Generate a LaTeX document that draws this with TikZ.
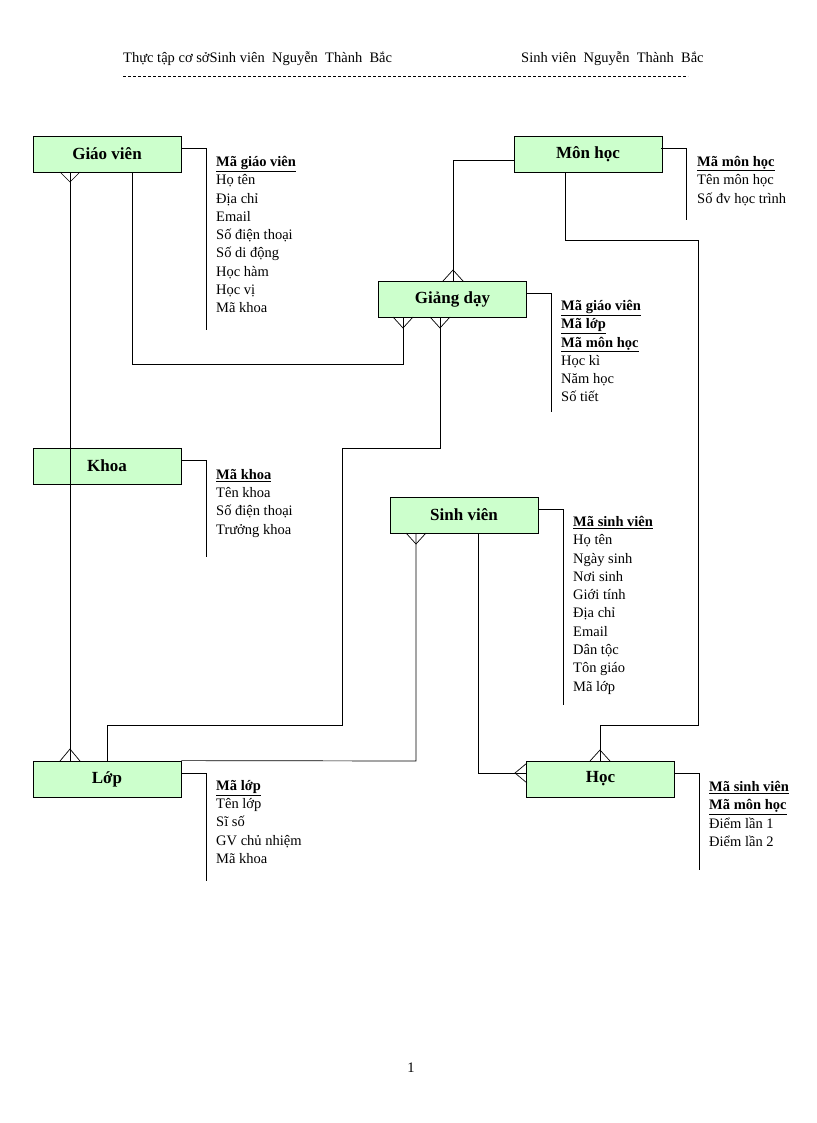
\documentclass[tikz,border=0pt]{standalone}
\usepackage{fontspec}
\setmainfont{Liberation Serif}
\begin{document}
\begin{tikzpicture}[x=1pt,y=-1pt,
  ent/.style={draw,fill=green!20,line width=0.8pt,minimum width=148pt,minimum height=36pt,inner sep=0pt,font=\fontsize{17}{17}\selectfont\bfseries},
  attr/.style={anchor=north west,align=left,inner sep=0pt,font=\fontsize{14.5}{18.3}\selectfont},
  hd/.style={anchor=west,inner sep=0pt,font=\fontsize{14.5}{15}\selectfont},
  ln/.style={line width=0.7pt}]
\useasboundingbox (0,0) rectangle (816,1123);
\node[hd] (h1) at (123,59) {Thực tập cơ sởSinh viên\ \ Nguyễn\ \ Thành\ \ Bắc};
\node[hd] (h2) at (521,59) {Sinh viên\ \ Nguyễn\ \ Thành\ \ Bắc};
\draw[dash pattern=on 3pt off 2pt,line width=0.5pt] (123,76) -- (688,76);
\node[font=\fontsize{14.5}{15}\selectfont] (pg) at (411,1068) {1};

\node[ent] (gv) at (107,154) {Giáo viên};
\node[ent] (mh) at (588,154) {Môn học};
\node[ent] (gd) at (452.5,299) {Giảng dạy};
\node[ent] (kh) at (107,466) {Khoa};
\node[ent] (sv) at (464,515) {Sinh viên};
\node[ent] (lp) at (107,779) {Lớp};
\node[ent] (hc) at (600.5,779) {Học};

% attribute brackets
\draw[ln] (181,148) -| (206,330);
\node[attr] (agv) at (216,156) {\underline{\textbf{Mã giáo viên}}\\Họ tên\\Địa chỉ\\Email\\Số điện thoại\\Số di động\\Học hàm\\Học vị\\Mã khoa};
\draw[ln] (661,148) -| (686,220);
\node[attr] (amh) at (697,156) {\underline{\textbf{Mã môn học}}\\Tên môn học\\Số đv học trình};
\draw[ln] (526,293) -| (551,412);
\node[attr] (agd) at (561,300) {\underline{\textbf{Mã giáo viên}}\\\underline{\textbf{Mã lớp}}\\\underline{\textbf{Mã môn học}}\\Học kì\\Năm học\\Số tiết};
\draw[ln] (181,460) -| (206,557);
\node[attr] (akh) at (216,469) {\underline{\textbf{Mã khoa}}\\Tên khoa\\Số điện thoại\\Trưởng khoa};
\draw[ln] (538,509) -| (563,705);
\node[attr] (asv) at (573,516) {\underline{\textbf{Mã sinh viên}}\\Họ tên\\Ngày sinh\\Nơi sinh\\Giới tính\\Địa chỉ\\Email\\Dân tộc\\Tôn giáo\\Mã lớp};
\draw[ln] (181,773) -| (206,881);
\node[attr] (alp) at (216,780) {\underline{\textbf{Mã lớp}}\\Tên lớp\\Sĩ số\\GV chủ nhiệm\\Mã khoa};
\draw[ln] (674,773) -| (699,870);
\node[attr] (ahc) at (709,781) {\underline{\textbf{Mã sinh viên}}\\\underline{\textbf{Mã môn học}}\\Điểm lần 1\\Điểm lần 2};

% connectors
\coordinate (c1) at (132,364); \coordinate (c2) at (403,364);
\coordinate (c3) at (453,160);
\coordinate (c4) at (440,448); \coordinate (c5) at (342,448); \coordinate (c6) at (342,725); \coordinate (c7) at (107,725);
\coordinate (c8) at (416,761);
\coordinate (c9) at (478,773);
\coordinate (d1) at (565,240); \coordinate (d2) at (698,240); \coordinate (d3) at (698,725); \coordinate (d4) at (600,725);
\draw[ln] (gv.south -| 70,0) -- (lp.north -| 70,0);
\draw[ln] (gv.south -| c1) -- (c1) -- (c2) -- (gd.south -| c2);
\draw[ln] (mh.west |- c3) -- (c3) -- (gd.north -| c3);
\draw[ln] (gd.south -| c4) -- (c4) -- (c5) -- (c6) -- (c7) -- (lp.north -| c7);
\draw[ln] (sv.south -| c8) -- (c8) -- (lp.north east);
\draw[ln] (sv.south -| c9) -- (c9) -- (hc.west |- c9);
\draw[ln] (mh.south -| d1) -- (d1) -- (d2) -- (d3) -- (d4) -- (hc.north -| d4);

% crow's feet
\draw[ln] (60,172) -- (70,182) -- (80,172);
\draw[ln] (60,761) -- (70,749) -- (80,761);
\draw[ln] (393,317) -- (403,328) -- (413,317);
\draw[ln] (430,317) -- (440,328) -- (450,317);
\draw[ln] (443,281) -- (453,270) -- (463,281);
\draw[ln] (406,533) -- (416,544) -- (426,533);
\draw[ln] (527,763) -- (515,773) -- (527,783);
\draw[ln] (590,761) -- (600,750) -- (610,761);
\end{tikzpicture}
\end{document}
